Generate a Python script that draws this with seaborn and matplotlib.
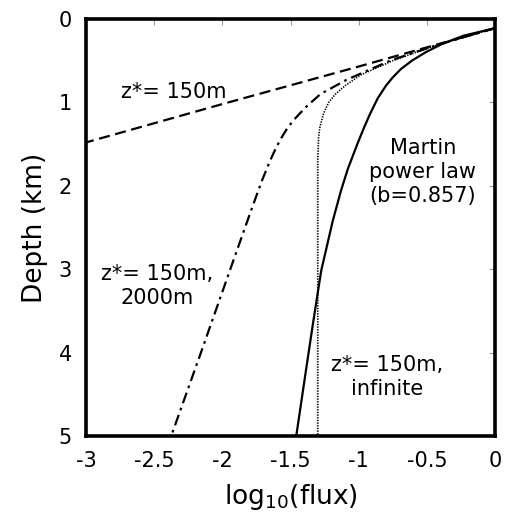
import matplotlib
matplotlib.use("Agg")
import matplotlib.pyplot as plt
import seaborn as sns
import pandas as pd

# ---- data ----
# single exponential z*=150m (dashed)
dash_depth = [0.11, 0.57, 1.02, 1.48]
dash_flux = [0.0, -1.0, -2.0, -3.0]

# Martin power law b=0.857 (solid)
martin_depth = [0.11, 0.2, 0.3, 0.4, 0.5, 0.6, 0.7, 0.8, 0.95, 1.15, 1.3, 1.5, 1.8, 2.06, 2.42, 3.02, 3.65, 4.25, 4.98]
martin_flux = [0.0, -0.23, -0.39, -0.51, -0.61, -0.69, -0.75, -0.80, -0.86, -0.92, -0.96, -1.01, -1.08, -1.13, -1.19, -1.275, -1.335, -1.39, -1.456]

# z*=150m + infinite (dotted)
inf_depth = [0.11, 0.2, 0.3, 0.4, 0.5, 0.67, 0.8, 0.9, 1.0, 1.13, 1.3, 1.42, 1.7, 2.5, 5.0]
inf_flux = [0.0, -0.19, -0.40, -0.58, -0.75, -0.985, -1.10, -1.17, -1.22, -1.257, -1.285, -1.294, -1.30, -1.30, -1.30]

# z*=150m + 2000m (dash-dot)
two_depth = [0.11, 0.2, 0.3, 0.4, 0.5, 0.73, 0.9, 1.06, 1.2, 1.3, 1.42, 1.54, 1.7, 1.94, 2.3, 2.9, 3.3, 4.06, 5.0]
two_flux = [0.0, -0.19, -0.40, -0.59, -0.77, -1.09, -1.28, -1.39, -1.47, -1.52, -1.565, -1.605, -1.65, -1.71, -1.79, -1.92, -2.006, -2.17, -2.375]

x_ticks = [-3, -2.5, -2, -1.5, -1, -0.5, 0]
x_tick_labels = ["-3", "-2.5", "-2", "-1.5", "-1", "-0.5", "0"]
y_ticks = [0, 1, 2, 3, 4, 5]
y_tick_labels = ["0", "1", "2", "3", "4", "5"]

sns.set_style("white")
plt.rcParams["font.family"] = ["DejaVu Sans"]
plt.rcParams["axes.unicode_minus"] = False
plt.rcParams["mathtext.default"] = "regular"
plt.rcParams["text.color"] = "black"
plt.rcParams["axes.labelcolor"] = "black"

fig = plt.figure(figsize=(5.12, 5.17), dpi=100)
ax = fig.add_axes([86 / 512, 1 - 436 / 517, 409 / 512, 417 / 517])

def draw(flux, depth, **kw):
    df = pd.DataFrame({"flux": flux, "depth": depth})
    sns.lineplot(data=df, x="flux", y="depth", sort=False, estimator=None,
                 ax=ax, color="black", **kw)

draw(dash_flux, dash_depth, linewidth=1.6, linestyle=(0, (5, 2.5)))
draw(two_flux, two_depth, linewidth=1.6, linestyle=(0, (5, 2.2, 1.2, 2.2)))
draw(inf_flux, inf_depth, linewidth=1.2, linestyle=(0, (0.8, 0.8)))
draw(martin_flux, martin_depth, linewidth=1.6, linestyle="-")

ax.set_xlim(-3, 0)
ax.set_ylim(5, 0)
ax.set_xticks(x_ticks)
ax.set_xticklabels(x_tick_labels)
ax.set_yticks(y_ticks)
ax.set_yticklabels(y_tick_labels)
ax.tick_params(axis="both", direction="in", length=4, width=0.8, color="#999999",
               labelsize=15, top=True, right=True, labelcolor="black")
ax.tick_params(axis="x", pad=11)
ax.tick_params(axis="y", pad=10)

for s in ax.spines.values():
    s.set_linewidth(2.6)
    s.set_color("black")

ax.set_xlabel("log$_{10}$(flux)", fontsize=19, labelpad=8)
ax.set_ylabel("Depth (km)", fontsize=19, labelpad=8)

ax.text(-2.36, 0.88, "z*= 150m", fontsize=15, ha="center", va="center")
ax.text(-0.53, 1.83, "Martin\npower law\n(b=0.857)", fontsize=15, ha="center",
        va="center", linespacing=1.25)
ax.text(-2.48, 3.2, "z*= 150m,\n2000m", fontsize=15, ha="center", va="center",
        linespacing=1.25)
ax.text(-0.79, 4.29, "z*= 150m,\ninfinite", fontsize=15, ha="center", va="center",
        linespacing=1.25)

fig.savefig("out.png", dpi=100)
